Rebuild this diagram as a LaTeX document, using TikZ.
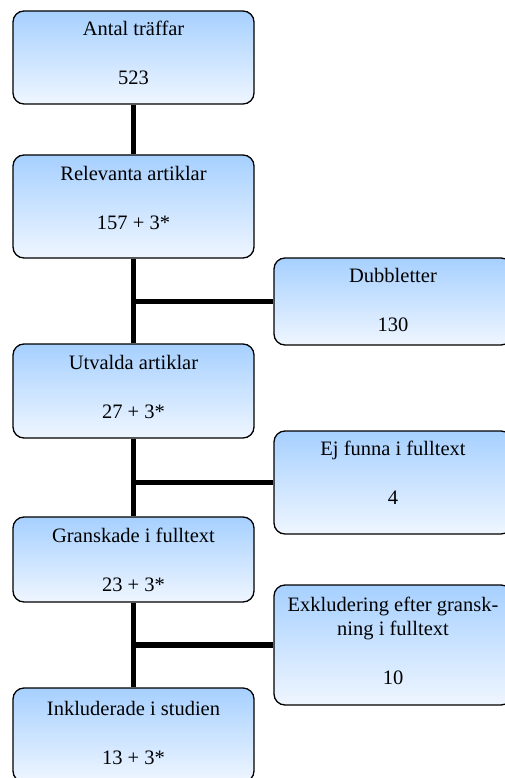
\documentclass[tikz,border=0pt]{standalone}
\usepackage{fontspec}
\setmainfont{Liberation Serif}
\usepackage{xcolor}
\definecolor{boxtop}{HTML}{A6D0FF}
\definecolor{boxbottom}{HTML}{EFF6FF}

\tikzset{
	box/.style={draw, line width=1.3pt, rounded corners=11pt, top color=boxtop, bottom color=boxbottom},
	txt/.style={anchor=base, align=center, inner sep=0pt, font=\fontsize{20.5}{24.5}\selectfont},
	link/.style={line width=5.5pt}
}

\begin{document}
\begin{tikzpicture}[x=1pt, y=-1pt]
	\def\gap{75pt}
	\useasboundingbox (0,0) rectangle (505,778);
	\clip (0,0) rectangle (505,778);

	% main column
	\node[box, minimum width=241pt, minimum height=93pt] (antal) at (133.5,57.5) {};
	\node[box, minimum width=241pt, minimum height=103pt] (relev) at (133.5,206.5) {};
	\node[box, minimum width=241pt, minimum height=94pt] (utv) at (133.5,391) {};
	\node[box, minimum width=241pt, minimum height=85pt] (gransk) at (133.5,559.5) {};
	\node[box, minimum width=241pt, minimum height=94pt] (inkl) at (133.5,735) {};

	% (base = last line of each text)
	\node[txt] (antal-t) at ([yshift=-74pt]antal.north) {Antal träffar\\[24.5pt]523};
	\node[txt] (relev-t) at ([yshift=-\gap]relev.north) {Relevanta artiklar\\[24.5pt]157 + 3*};
	\node[txt] (utv-t) at ([yshift=-\gap]utv.north) {Utvalda artiklar\\[24.5pt]27 + 3*};
	\node[txt] (gransk-t) at ([yshift=-\gap]gransk.north) {Granskade i fulltext\\[24.5pt]23 + 3*};
	\node[txt] (inkl-t) at ([yshift=-77pt]inkl.north) {Inkluderade i studien\\[24.5pt]13 + 3*};

	% side boxes
	\node[box, minimum width=238pt, minimum height=87pt] (dubb) at (393,301.5) {};
	\node[box, minimum width=238pt, minimum height=103pt] (ejf) at (393,482.5) {};
	\node[box, minimum width=238pt, minimum height=120pt] (exkl) at (393,645) {};

	\node[txt] (dubb-t) at ([yshift=-74pt]dubb.north) {Dubbletter\\[24.5pt]130};
	\node[txt] (ejf-t) at ([yshift=-74pt]ejf.north) {Ej funna i fulltext\\[24.5pt]4};
	\node[txt] (exkl-t) at ([yshift=-100pt]exkl.north) {Exkludering efter gransk-\\ning i fulltext\\[24pt]10};

	% vertical links
	\draw[link] (antal) -- (relev);
	\draw[link] (relev) -- (utv);
	\draw[link] (utv) -- (gransk);
	\draw[link] (gransk) -- (inkl);

	% branches
	\coordinate (j1) at (dubb.west -| relev.south);
	\coordinate (j2) at (ejf.west -| utv.south);
	\coordinate (j3) at (exkl.west -| gransk.south);
	\draw[link] (j1) -- (dubb.west);
	\draw[link] (j2) -- (ejf.west);
	\draw[link] (j3) -- (exkl.west);
\end{tikzpicture}
\end{document}
